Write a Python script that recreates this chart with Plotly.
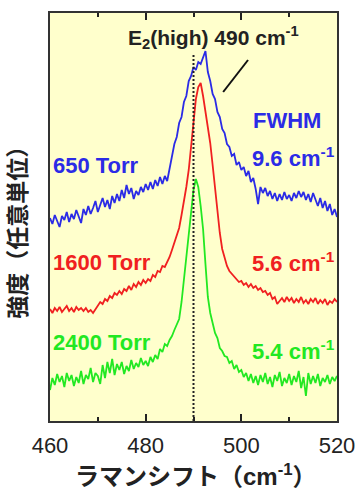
import plotly.graph_objects as go

# Raman shift grid (cm^-1), 0.5 cm^-1 steps from 460 to 520
shift = [460 + 0.5 * i for i in range(121)]

# Intensities (arbitrary units)
torr650 = [
    202, 196, 205, 199, 193, 204, 200, 208, 198, 206,
    201, 210, 203, 197, 211, 205, 214, 206, 212, 219,
    208, 216, 222, 213, 220, 211, 224, 217, 226, 219,
    230, 222, 235, 226, 232, 221, 229, 225, 233, 228,
    236, 230, 238, 231, 240, 234, 243, 236, 244, 239,
    252, 262, 276, 283, 297, 303, 318, 324, 339, 344,
    353, 350, 358, 356, 362, 369, 348, 339, 326, 321,
    308, 303, 291, 287, 276, 273, 264, 266, 255, 258,
    250, 253, 244, 249, 238, 242, 231, 216, 233, 227,
    232, 224, 229, 221, 227, 219, 226, 220, 228, 221,
    225, 219, 227, 222, 229, 223, 228, 220, 226, 218,
    227, 221, 214, 222, 212, 219, 209, 216, 205, 211,
    203,
]
torr1600 = [
    111, 107, 112, 109, 113, 108, 111, 114, 109, 112,
    108, 113, 110, 112, 109, 112, 108, 110, 107, 111,
    114, 118, 116, 121, 119, 124, 122, 127, 125, 129,
    126, 131, 129, 134, 130, 136, 133, 138, 135, 140,
    137, 141, 139, 145, 143, 149, 148, 154, 153, 158,
    163, 170, 177, 186, 192, 205, 218, 233, 250, 274,
    300, 321, 333, 337, 324, 309, 295, 277, 255, 231,
    206, 187, 171, 161, 154, 149, 146, 143, 141, 138,
    139, 135, 137, 133, 136, 132, 134, 130, 132, 128,
    129, 125, 127, 121, 123, 116, 119, 122, 118, 123,
    119, 122, 117, 121, 118, 123, 117, 120, 116, 121,
    118, 122, 116, 120, 117, 121, 115, 119, 117, 121,
    118,
]
torr2400 = [
    30, 42, 35, 46, 38, 44, 33, 47, 39, 45,
    34, 43, 37, 49, 36, 45, 41, 52, 38, 47,
    44, 36, 55, 42, 58, 47, 61, 45, 56, 50,
    58, 46, 54, 49, 60, 51, 57, 53, 62, 55,
    59, 54, 63, 58, 65, 61, 71, 68, 76, 74,
    80, 84, 90, 96, 101, 118, 140, 166, 186, 206,
    230, 241, 233, 214, 191, 156, 123, 107, 97, 87,
    82, 72, 69, 64, 63, 57, 59, 51, 55, 48,
    50, 43, 47, 39, 46, 37, 44, 35, 45, 38,
    47, 36, 43, 33, 45, 39, 48, 34, 42, 37,
    46, 35, 44, 38, 49, 32, 43, 24, 47, 36,
    44, 37, 46, 34, 42, 38, 45, 36, 43, 39,
    44,
]

series_names = ["650 Torr", "1600 Torr", "2400 Torr"]
fwhm_labels = ["9.6 cm<sup>-1</sup>", "5.6 cm<sup>-1</sup>", "5.4 cm<sup>-1</sup>"]
colors = ["#2B2BE6", "#F02020", "#22E822"]
peak_ref = 490
x_ticks = [460, 480, 500, 520]

FONT = "Liberation Sans, Arial, Noto Sans CJK JP"
CJK = "Liberation Sans, Noto Sans CJK JP"

fig = go.Figure()
for ys, name, c in zip([torr650, torr1600, torr2400], series_names, colors):
    fig.add_trace(go.Scatter(x=shift, y=ys, mode="lines", name=name,
                             line=dict(color=c, width=1.8), showlegend=False))

# dotted reference line at 490 cm^-1
fig.add_shape(type="line", x0=peak_ref, x1=peak_ref, y0=-1, y1=365,
              xref="x", yref="y", line=dict(color="#222", width=2, dash="2px,2px"))
# pointer line for the E2(high) label
fig.add_shape(type="line", x0=496.2, y0=328, x1=501.4, y1=360,
              xref="x", yref="y", line=dict(color="#111", width=2))

ann = []
def label(x, y, text, color, size=22, xanchor="left"):
    ann.append(dict(x=x, y=y, xref="x", yref="y", text=f"<b>{text}</b>",
                    showarrow=False, xanchor=xanchor, yanchor="middle",
                    font=dict(family=FONT, size=size, color=color)))

label(475.8, 383, "E<sub>2</sub>(high) 490 cm<sup>-1</sup>", "#222", size=21)
label(509.5, 300, "FWHM", colors[0], xanchor="center")
label(460.3, 255, series_names[0], colors[0])
label(501.8, 263, fwhm_labels[0], colors[0])
label(460.3, 158, series_names[1], colors[1])
label(501.8, 158, fwhm_labels[1], colors[1])
label(460.3, 78, series_names[2], colors[2])
label(501.8, 70, fwhm_labels[2], colors[2])

# axis titles
ann.append(dict(x=0.509, y=-0.132, xref="paper", yref="paper",
                text="<b>ラマンシフト（cm<sup>-1</sup>）</b>", showarrow=False,
                xanchor="center", yanchor="middle",
                font=dict(family=CJK, size=24, color="#222")))
ann.append(dict(x=-0.112, y=0.4755, xref="paper", yref="paper",
                text="<b>強度（任意単位）</b>", showarrow=False, textangle=-90,
                xanchor="center", yanchor="middle",
                font=dict(family=CJK, size=23, color="#222")))

fig.update_layout(
    width=355, height=493,
    margin=dict(l=50, r=18, t=13, b=72, autoexpand=False),
    paper_bgcolor="white", plot_bgcolor="#FFFFCC",
    annotations=ann,
    font=dict(family=FONT),
)
fig.update_xaxes(range=[460, 520], tickvals=x_ticks, ticks="inside", ticklen=7,
                 tickwidth=2, tickcolor="#222", automargin=False,
                 minor=dict(dtick=10, tick0=460, ticks="inside", ticklen=4, tickwidth=1.5, tickcolor="#222"),
                 showline=True, linecolor="#333", linewidth=1.5, mirror="ticks",
                 showgrid=False, zeroline=False, ticklabelstandoff=4,
                 ticklabeloverflow="allow",
                 tickfont=dict(family=FONT, size=22, color="#222"), tickprefix="<b>", ticksuffix="</b>")
fig.update_yaxes(range=[-1, 407], showticklabels=False, ticks="", automargin=False,
                 showline=True, linecolor="#333", linewidth=1.5, mirror=True,
                 showgrid=False, zeroline=False)

fig.write_html("out.html")
